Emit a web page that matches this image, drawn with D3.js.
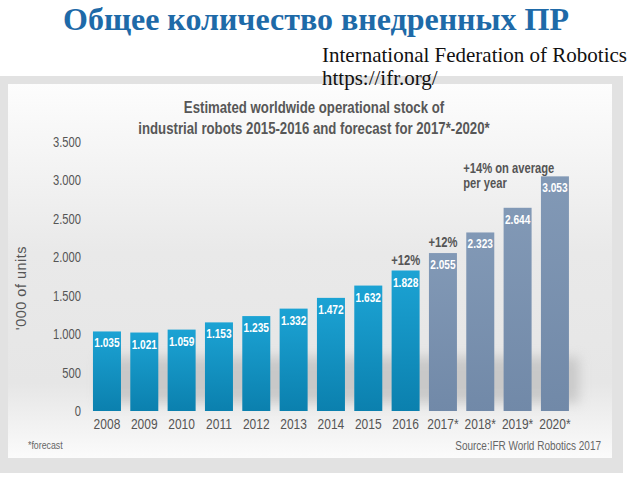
<!DOCTYPE html>
<html><head><meta charset="utf-8">
<script src="https://cdn.jsdelivr.net/npm/d3@7"></script>
<style>body{margin:0;background:#fff}svg{display:block}</style>
</head><body>
<script>
const years = ["2008","2009","2010","2011","2012","2013","2014","2015","2016","2017*","2018*","2019*","2020*"];
const values = [1035,1021,1059,1153,1235,1332,1472,1632,1828,2055,2323,2644,3053];
const isForecast = [false,false,false,false,false,false,false,false,false,true,true,true,true];
const yTicks = [0,500,1000,1500,2000,2500,3000,3500];

const W = 640, H = 480;
const svg = d3.select("body").append("svg").attr("width", W).attr("height", H);
const defs = svg.append("defs");
const bg = defs.append("linearGradient").attr("id","bg").attr("x1",0).attr("y1",0).attr("x2",0).attr("y2",1);
bg.append("stop").attr("offset","0%").attr("stop-color","#fdfdfd");
bg.append("stop").attr("offset","45%").attr("stop-color","#e9e9e9");
bg.append("stop").attr("offset","80%").attr("stop-color","#e6e6e6");
bg.append("stop").attr("offset","100%").attr("stop-color","#fbfbfb");
const gb = defs.append("linearGradient").attr("id","gblue").attr("x1",0).attr("y1",0).attr("x2",0).attr("y2",1);
gb.append("stop").attr("offset","0%").attr("stop-color","#1ca3d4");
gb.append("stop").attr("offset","100%").attr("stop-color","#0b80ae");
const gg = defs.append("linearGradient").attr("id","ggray").attr("x1",0).attr("y1",0).attr("x2",0).attr("y2",1);
gg.append("stop").attr("offset","0%").attr("stop-color","#8299b6");
gg.append("stop").attr("offset","100%").attr("stop-color","#7189a8");
defs.append("filter").attr("id","blur").attr("x","-20%").attr("y","-50%").attr("width","140%").attr("height","200%")
  .append("feGaussianBlur").attr("stdDeviation",6);

const SX = 0.8; // horizontal condensing factor for the narrow chart font
const sans = "'Liberation Sans',Arial,sans-serif";
function ntext(parent, x0, y0, str, opts) {
  const g = parent.append("text").attr("transform",`translate(${x0},${y0}) scale(${opts.sx||SX},1)`)
    .attr("x",0).attr("y",0).attr("font-family",sans).attr("font-size",opts.size)
    .attr("font-weight",opts.bold?"bold":"normal").attr("fill",opts.fill||"#555")
    .attr("text-anchor",opts.anchor||"start").text(str);
  return g;
}

// Header
svg.append("text").attr("x",316).attr("y",30).attr("text-anchor","middle")
  .attr("font-family","'Liberation Serif','Times New Roman',serif").attr("font-weight","bold")
  .attr("font-size",32).attr("fill","#1e6aa8").text("Общее количество внедренных ПР");

// Frame
svg.append("rect").attr("x",0).attr("y",76).attr("width",623).attr("height",397).attr("fill","#e2e2e2");
svg.append("rect").attr("x",8).attr("y",84).attr("width",604).attr("height",374).attr("fill","url(#bg)");

svg.append("text").attr("x",322).attr("y",62)
  .attr("font-family","'Liberation Serif','Times New Roman',serif").attr("font-size",21).attr("fill","#111")
  .text("International Federation of Robotics");
svg.append("text").attr("x",322).attr("y",85)
  .attr("font-family","'Liberation Serif','Times New Roman',serif").attr("font-size",21).attr("fill","#111")
  .text("https://ifr.org/");

// Chart title
ntext(svg, 314, 113, "Estimated worldwide operational stock of", {size:16.5, bold:true, fill:"#575757", anchor:"middle"});
ntext(svg, 314, 134, "industrial robots 2015-2016 and forecast for 2017*-2020*", {size:16.5, bold:true, fill:"#575757", anchor:"middle"});

const x = d3.scaleBand().domain(years).range([88.3,573.6]).paddingInner(0.25).paddingOuter(0.125);
const y = d3.scaleLinear().domain([0,3500]).range([411,142]);
const loc = d3.formatLocale({decimal:",", thousands:".", grouping:[3], currency:["",""]});
const fmt = loc.format(",");

// shadow
svg.append("rect").attr("x",x(years[0])+6).attr("y",y(700)).attr("width",x(years[12])+x.bandwidth()-x(years[0])+4)
  .attr("height",y(0)-y(700)-8).attr("fill","#b0b0b0").attr("opacity",0.55).attr("filter","url(#blur)");

// y axis
const yAxis = d3.axisLeft(y).tickValues(yTicks).tickFormat(fmt).tickSize(0).tickPadding(0);
const ga = svg.append("g").attr("transform","translate(81,0)").call(yAxis);
ga.select(".domain").remove();
ga.selectAll(".tick text").each(function(){
  const s = d3.select(this);
  s.attr("x",null).attr("font-family",sans).attr("font-size",14).attr("fill","#555")
   .attr("transform",`scale(${SX},1)`);
});

// x axis
const xAxis = d3.axisBottom(x).tickSize(0).tickPadding(0);
const gx = svg.append("g").attr("transform","translate(0,418)").call(xAxis);
gx.select(".domain").remove();
gx.selectAll(".tick text").attr("font-family",sans).attr("font-size",15).attr("fill","#555")
  .attr("dy","0.71em").attr("transform",`scale(${SX},1)`);

// bars
svg.selectAll("rect.bar").data(years).join("rect").attr("class","bar")
  .attr("x",d=>x(d)).attr("width",x.bandwidth())
  .attr("y",(d,i)=>y(values[i])).attr("height",(d,i)=>y(0)-y(values[i]))
  .attr("fill",(d,i)=>isForecast[i]?"url(#ggray)":"url(#gblue)");

years.forEach((d,i)=>{
  ntext(svg, x(d)+x.bandwidth()/2, y(values[i])+16, fmt(values[i]), {size:13, bold:true, fill:"#fff", anchor:"middle", sx:0.78});
});

// annotations
const annYears = ["2016","2017*"];
const annLabels = ["+12%","+12%"];
annYears.forEach((yr,k)=>{
  const i = years.indexOf(yr);
  ntext(svg, x(yr)+x.bandwidth()/2, y(values[i])-6, annLabels[k], {size:14, bold:true, fill:"#555", anchor:"middle"});
});
ntext(svg, x("2018*")-3, 173, "+14% on average", {size:14, bold:true, fill:"#555"});
ntext(svg, x("2018*")-3, 188, "per year", {size:14, bold:true, fill:"#555"});

// y label
svg.append("text").attr("transform","translate(26,288) rotate(-90)").attr("text-anchor","middle")
  .attr("font-family",sans).attr("font-size",14.5).attr("letter-spacing",0.5).attr("fill","#555").text("'000 of units");

ntext(svg, 28, 449, "*forecast", {size:11, fill:"#666"});
ntext(svg, 601, 450, "Source:IFR World Robotics 2017", {size:12.5, fill:"#666", anchor:"end"});
</script>
</body></html>
